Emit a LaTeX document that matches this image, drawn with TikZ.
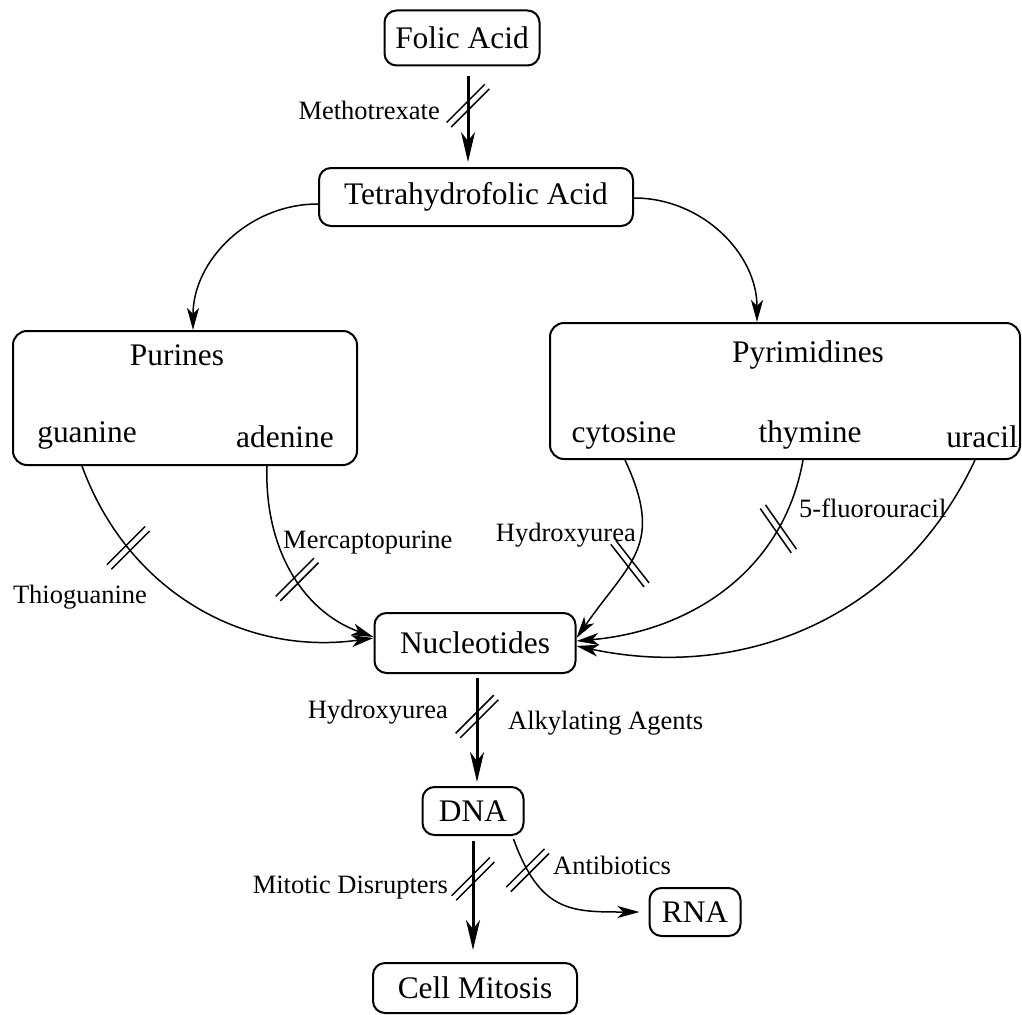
\documentclass[tikz,border=0pt]{standalone}
\usepackage{fontspec}
\setmainfont{Liberation Serif}
\usetikzlibrary{arrows.meta,positioning,calc}

% two parallel strokes across an edge (drug block)
\newcommand{\cutmark}[2]{%
  \draw[cut_line] ([shift={(#2+90:3.2)}]#1) ++(#2:-27) -- ++(#2:54);
  \draw[cut_line] ([shift={(#2-90:3.2)}]#1) ++(#2:-27) -- ++(#2:54);
}

\begin{document}
\begin{tikzpicture}[
    x=1pt, y=1pt,
    box_node/.style={draw, line width=2pt, rounded corners=12pt, inner sep=0pt, font=\fontsize{31.4}{36}\selectfont},
    group_node/.style={draw, line width=2pt, rounded corners=14pt, inner sep=0pt},
    item_label/.style={inner sep=0pt, font=\fontsize{31.4}{36}\selectfont},
    drug_label/.style={inner sep=0pt, font=\fontsize{26.5}{30}\selectfont},
    main_edge/.style={line width=3pt, -{Stealth[length=30pt, width=14pt, inset=9pt]}},
    thin_edge/.style={line width=1.5pt, -{Stealth[length=22pt, width=12pt, inset=6pt]}},
    cut_line/.style={line width=1.5pt}
]
\useasboundingbox (0,0) rectangle (1022,-1014);

% --- NODES ---

% Precursors (Top)
\node[box_node, minimum width=155, minimum height=55] (folic) at (462,-38) {Folic Acid};
\node[box_node, minimum width=314, minimum height=58] (thf) at (476,-197) {Tetrahydrofolic Acid};

% Purines
\node[group_node, minimum width=344, minimum height=134] (purines) at (185,-398) {};
\node[item_label] (purines_title) at (177,-355) {Purines};
\node[item_label] (guanine) at (87,-435) {guanine};
\node[item_label] (adenine) at (285,-437) {adenine};

% Pyrimidines
\node[group_node, minimum width=470, minimum height=136] (pyrim) at (785,-391) {};
\node[item_label] (pyrim_title) at (808,-355) {Pyrimidines};
\node[item_label] (cytosine) at (624,-435) {cytosine};
\node[item_label] (thymine) at (810,-435) {thymine};
\node[item_label] (uracil) at (982,-437) {uracil};

% Products (Bottom)
\node[box_node, minimum width=201, minimum height=60] (nucl) at (475,-643) {Nucleotides};
\node[box_node, minimum width=101, minimum height=48] (dna) at (473,-811) {DNA};
\node[box_node, minimum width=91, minimum height=48] (rna) at (695,-912) {RNA};
\node[box_node, minimum width=204, minimum height=50] (mitosis) at (475,-988) {Cell Mitosis};

% --- EDGES ---

% 1. Folic acid reduction
\coordinate (mtx_top) at ([xshift=6pt]folic.south);
\draw[main_edge, shorten <=10pt, shorten >=5pt] (mtx_top) -- coordinate[pos=0.39] (cut_mtx) (mtx_top |- thf.north);

% 2. Base synthesis
\draw[thin_edge] ([yshift=-7pt]thf.west) to[out=180, in=90] ([xshift=8pt]purines.north);
\draw[thin_edge] ([yshift=-1pt]thf.east) to[out=0, in=90] ([xshift=-28pt]pyrim.north);

% 3. Bases to nucleotides
\draw[thin_edge] ($(guanine.south |- purines.south)+(-5,0)$) to[out=-70, in=-172] coordinate[pos=0.25] (cut_tg) ([yshift=5pt]nucl.west);
\draw[thin_edge] ($(adenine.south |- purines.south)+(-18,0)$) to[out=-92, in=160] coordinate[pos=0.55] (cut_mp) ([yshift=6pt]nucl.west);
\draw[thin_edge] ($(cytosine.south |- pyrim.south)+(1,0)$) to[out=-65, in=55, looseness=1.3] coordinate[pos=0.58] (cut_hu) ([yshift=5pt]nucl.east);
\draw[thin_edge] ($(thymine.south |- pyrim.south)+(-7,0)$) to[out=-100, in=5] coordinate[pos=0.23] (cut_fu) ([yshift=2pt]nucl.east);
\draw[thin_edge] ($(uracil.south |- pyrim.south)+(-7,0)$) to[out=-115, in=-12] ([yshift=-3pt]nucl.east);

% 4. Nucleotides to DNA, DNA onwards
\coordinate (nd_top) at ([xshift=2pt]nucl.south);
\draw[main_edge, shorten <=4pt, shorten >=4pt] (nd_top) -- coordinate[pos=0.38] (cut_nd) (nd_top |- dna.north);
\draw[main_edge, shorten <=5pt, shorten >=12pt] (dna.south) -- coordinate[pos=0.34] (cut_md) (dna.south |- mitosis.north);
\draw[thin_edge, shorten >=9pt] ($(dna.south east)+(-11,-3)$) to[out=-70, in=180, looseness=1.3] coordinate[pos=0.17] (cut_ab) (rna.west);

% --- BLOCKS ---
\cutmark{cut_mtx}{45}
\cutmark{cut_tg}{45}
\cutmark{cut_mp}{45}
\cutmark{cut_hu}{-52}
\cutmark{cut_fu}{-55}
\cutmark{cut_nd}{45}
\cutmark{cut_md}{45}
\cutmark{cut_ab}{45}

% --- ANNOTATIONS ---
\node[drug_label, anchor=east] at (440,-110) {Methotrexate};
\node[drug_label] at (80,-597) {Thioguanine};
\node[drug_label, anchor=west] at (283,-543) {Mercaptopurine};
\node[drug_label, anchor=east] at (636,-535) {Hydroxyurea};
\node[drug_label, anchor=west] at (799,-508) {5-fluorouracil};
\node[drug_label, anchor=east] at (448,-712) {Hydroxyurea};
\node[drug_label, anchor=west] at (508,-723) {Alkylating Agents};
\node[drug_label, anchor=east] at (448,-888) {Mitotic Disrupters};
\node[drug_label, anchor=west] at (553,-865) {Antibiotics};

\end{tikzpicture}
\end{document}
